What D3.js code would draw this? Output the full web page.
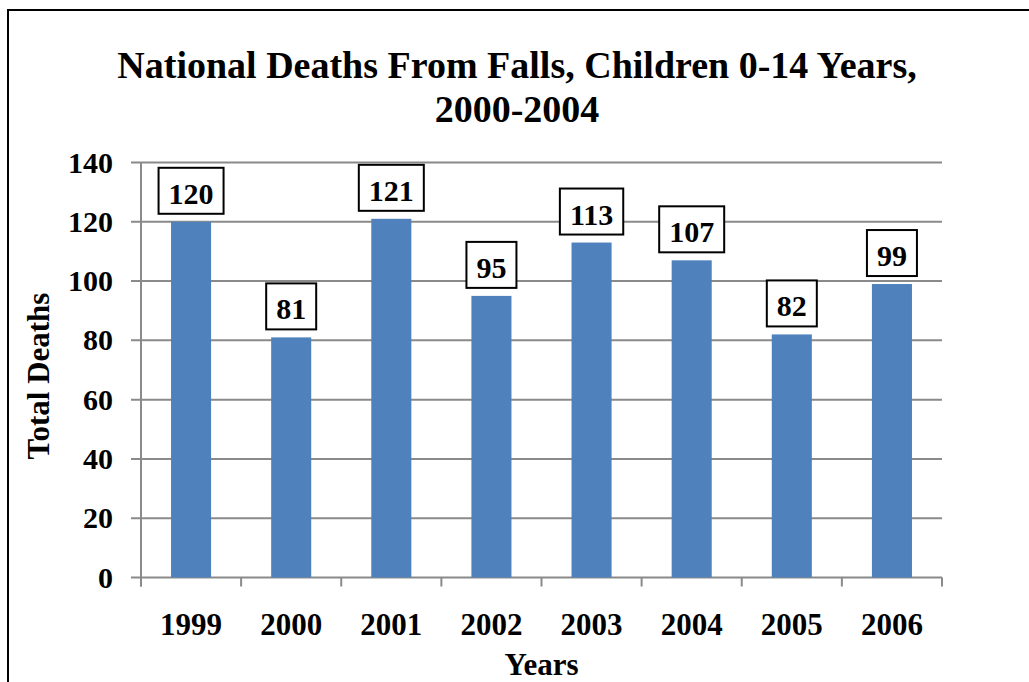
<!DOCTYPE html>
<html>
<head>
<meta charset="utf-8">
<script src="https://cdn.jsdelivr.net/npm/d3@7"></script>
<style>
  body { margin: 0; background: #fff; }
  text { font-family: "Liberation Serif", "Times New Roman", Times, serif; font-weight: bold; fill: #000; }
</style>
</head>
<body>
<svg id="chart" width="1029" height="682"></svg>
<script>
var years = ["1999", "2000", "2001", "2002", "2003", "2004", "2005", "2006"];
var deaths = [120, 81, 121, 95, 113, 107, 82, 99];
var yTicks = [0, 20, 40, 60, 80, 100, 120, 140];
var titleLines = ["National Deaths From Falls, Children 0-14 Years,", "2000-2004"];

var svg = d3.select("#chart");
var margin = {top: 162.5, right: 87, bottom: 104.5, left: 141};
var width = 1029, height = 682;

// outer frame
svg.append("rect")
    .attr("x", 8).attr("y", 10)
    .attr("width", 1040).attr("height", 700)
    .attr("fill", "none")
    .attr("stroke", "#000")
    .attr("stroke-width", 2);

var x = d3.scaleBand()
    .domain(years)
    .range([margin.left, width - margin.right])
    .paddingInner(0.6)
    .paddingOuter(0.3);

var y = d3.scaleLinear()
    .domain([0, 140])
    .range([height - margin.bottom, margin.top]);

var x0 = x.range()[0], x1 = x.range()[1];

// gridlines
svg.append("g").selectAll("line")
    .data(yTicks)
    .enter()
    .append("line")
    .attr("x1", x0 - 10).attr("x2", x1)
    .attr("y1", function(d) { return y(d); })
    .attr("y2", function(d) { return y(d); })
    .attr("stroke", "#8a8a8a")
    .attr("stroke-width", 2);

// y axis line
svg.append("line")
    .attr("x1", x0).attr("x2", x0)
    .attr("y1", y(140)).attr("y2", y(0) + 9)
    .attr("stroke", "#8a8a8a").attr("stroke-width", 2);

// x category boundary ticks
svg.append("g").selectAll("line")
    .data(d3.range(years.length + 1))
    .enter()
    .append("line")
    .attr("x1", function(i) { return x0 + i * x.step(); })
    .attr("x2", function(i) { return x0 + i * x.step(); })
    .attr("y1", y(0)).attr("y2", y(0) + 9)
    .attr("stroke", "#8a8a8a").attr("stroke-width", 2);

// y tick labels
svg.append("g").selectAll("text")
    .data(yTicks)
    .enter()
    .append("text")
    .attr("x", 113)
    .attr("y", function(d) { return y(d) + 10; })
    .attr("text-anchor", "end")
    .style("font-size", "30px")
    .text(function(d) { return d; });

// x tick labels
svg.append("g").selectAll("text")
    .data(years)
    .enter()
    .append("text")
    .attr("x", function(d) { return x(d) + x.bandwidth() / 2; })
    .attr("y", 635)
    .attr("text-anchor", "middle")
    .style("font-size", "31px")
    .text(function(d) { return d; });

// bars
svg.append("g").selectAll("rect")
    .data(deaths)
    .enter()
    .append("rect")
    .attr("x", function(d, i) { return x(years[i]); })
    .attr("y", function(d) { return y(d); })
    .attr("width", x.bandwidth())
    .attr("height", function(d) { return y(0) - y(d); })
    .attr("fill", "#4f81bd");

// data labels in boxes
var lab = svg.append("g").selectAll("g")
    .data(deaths)
    .enter()
    .append("g");

lab.append("rect")
    .attr("fill", "#fff")
    .attr("stroke", "#000")
    .attr("stroke-width", 2);

lab.append("text")
    .attr("x", function(d, i) { return x(years[i]) + x.bandwidth() / 2; })
    .attr("y", function(d) { return y(d) - 18; })
    .attr("text-anchor", "middle")
    .style("font-size", "30px")
    .text(function(d) { return d; });

lab.each(function(d, i) {
    var g = d3.select(this);
    var w = g.select("text").node().getComputedTextLength() + 20;
    var cx = x(years[i]) + x.bandwidth() / 2;
    g.select("rect")
        .attr("x", cx - w / 2)
        .attr("y", y(d) - 8 - 46)
        .attr("width", w)
        .attr("height", 46);
});

// title
svg.append("g").selectAll("text")
    .data(titleLines)
    .enter()
    .append("text")
    .attr("x", 517)
    .attr("y", function(d, i) { return 78 + i * 44; })
    .attr("text-anchor", "middle")
    .style("font-size", "38px")
    .text(function(d) { return d; });

// axis titles
svg.append("text")
    .attr("x", (x0 + x1) / 2)
    .attr("y", 675)
    .attr("text-anchor", "middle")
    .style("font-size", "31px")
    .text("Years");

svg.append("text")
    .attr("transform", "translate(49," + 376 + ") rotate(-90)")
    .attr("text-anchor", "middle")
    .style("font-size", "31px")
    .text("Total Deaths");
</script>
</body>
</html>
